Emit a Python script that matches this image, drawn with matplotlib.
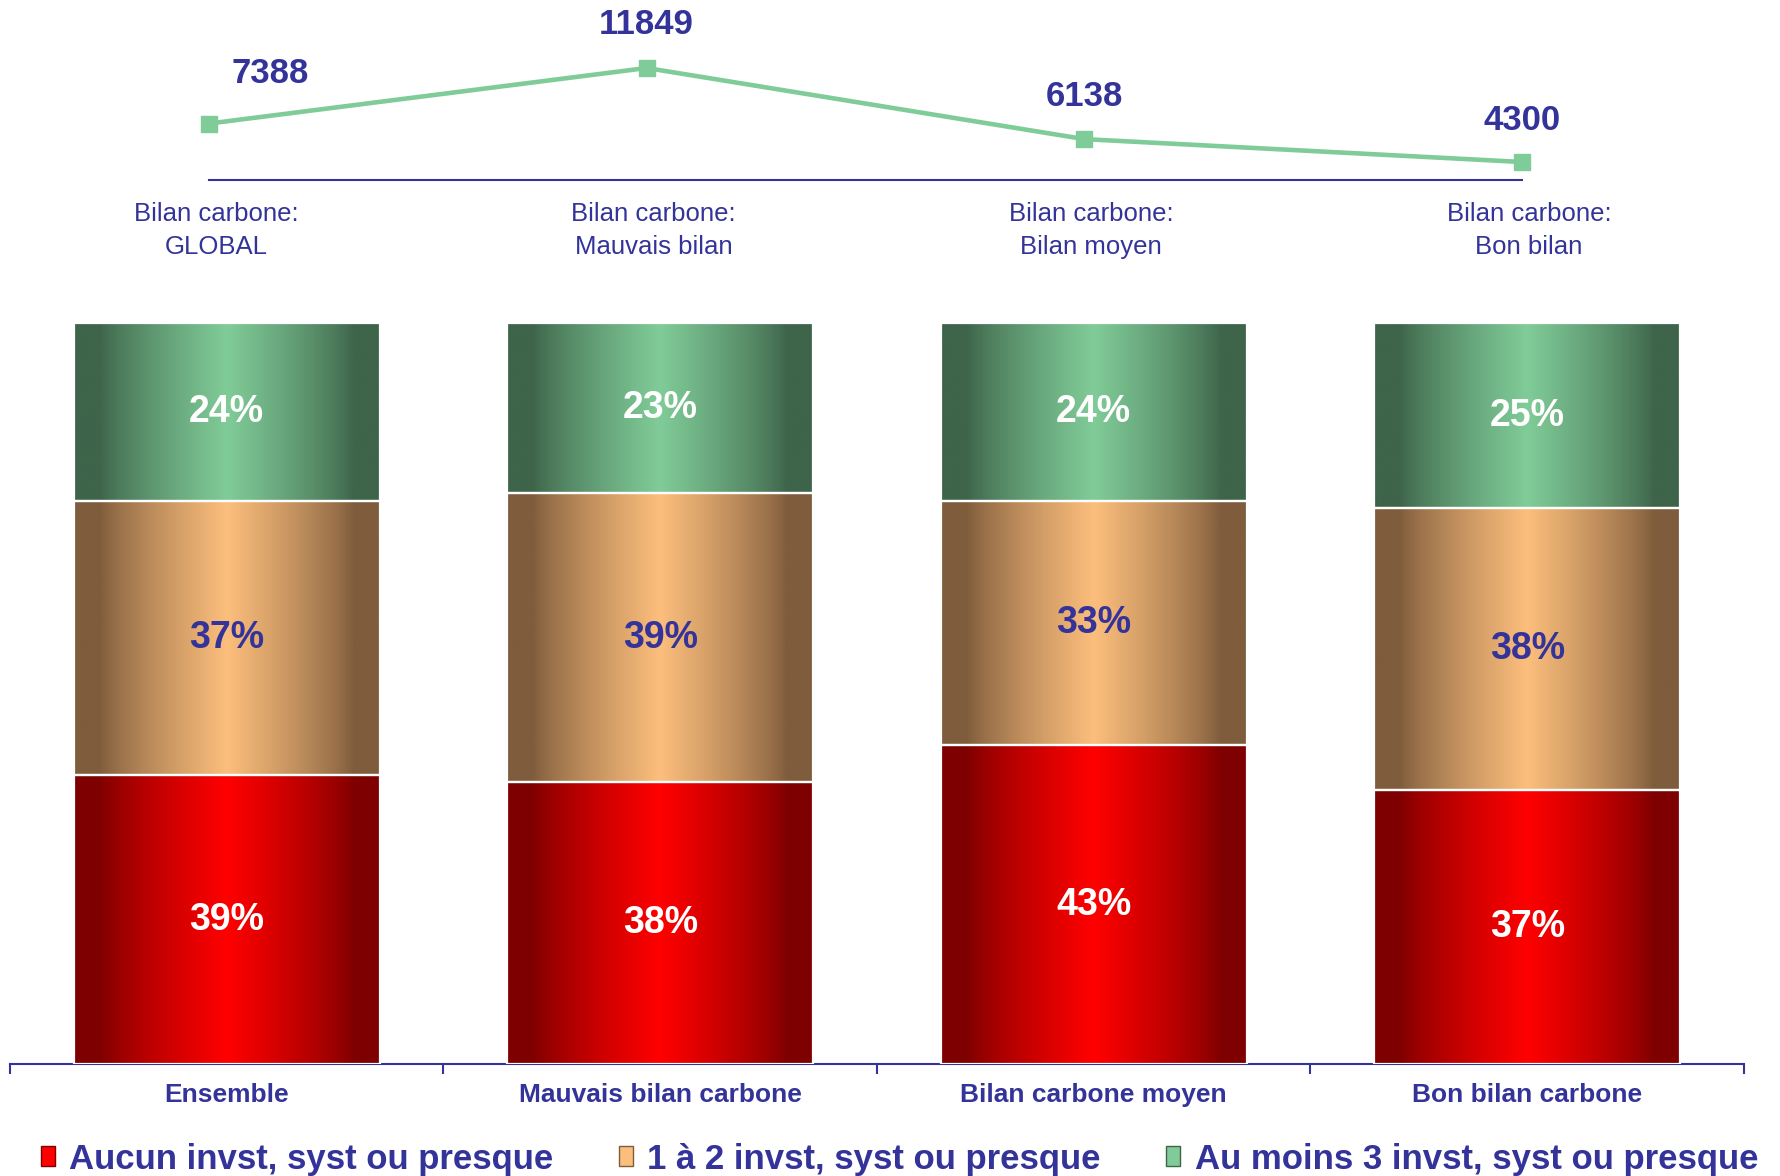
import numpy as np
import matplotlib
matplotlib.use("Agg")
import matplotlib.pyplot as plt
from matplotlib.colors import LinearSegmentedColormap
from matplotlib.patches import Rectangle
from matplotlib.transforms import ScaledTranslation

plt.rcParams['font.family'] = ['Liberation Sans', 'DejaVu Sans']

# sample sizes by carbon profile
line_labels = ["Bilan carbone:\nGLOBAL", "Bilan carbone:\nMauvais bilan",
               "Bilan carbone:\nBilan moyen", "Bilan carbone:\nBon bilan"]
effectifs = [7388, 11849, 6138, 4300]

# share of investments per group (%)
groupes = ["Ensemble", "Mauvais bilan carbone", "Bilan carbone moyen", "Bon bilan carbone"]
series = ["Aucun invst, syst ou presque", "1 à 2 invst, syst ou presque",
          "Au moins 3 invst, syst ou presque"]
aucun = [39, 38, 43, 37]
un_deux = [37, 39, 33, 38]
trois_plus = [24, 23, 24, 25]

BLUE = '#333399'
W, H = 1781, 1176
fig = plt.figure(figsize=(W / 100, H / 100), dpi=100)

def px_axes(x0, y0, x1, y1):
    # axes from pixel box (top-left origin)
    return fig.add_axes([x0 / W, 1 - y1 / H, (x1 - x0) / W, (y1 - y0) / H])

# ---- line chart on top
axl = px_axes(209, 0, 1522, 180)
xs = np.arange(len(effectifs))
axl.plot(xs, effectifs, color='#80cc98', lw=3.3, marker='s', ms=12,
         mec='#80cc98', mfc='#80cc98', clip_on=False, zorder=3)
axl.set_xlim(0, 3)
axl.set_ylim(2855, 17310)
for s in ['top', 'left', 'right']:
    axl.spines[s].set_visible(False)
axl.spines['bottom'].set_color(BLUE)
axl.spines['bottom'].set_linewidth(1.5)
axl.set_yticks([])
axl.set_xticks(xs)
axl.set_xticklabels(line_labels, fontsize=18.5, color=BLUE, linespacing=1.5)
axl.tick_params(axis='x', length=0, pad=15.5)
shift = ScaledTranslation(7 / 100, 0, fig.dpi_scale_trans)
for lab in axl.get_xticklabels():
    lab.set_transform(lab.get_transform() + shift)

label_offsets = [(44, 36), (0, 31), (0, 31), (0, 30)]
for x, v, off in zip(xs, effectifs, label_offsets):
    axl.annotate(str(v), (x, v), xytext=off, textcoords='offset points',
                 ha='center', va='center', fontsize=25, fontweight='bold',
                 color=BLUE, annotation_clip=False)

# ---- stacked bars with a horizontal shading
axb = px_axes(10, 323, 1744, 1064)
pos = np.arange(len(groupes))
width = 0.705

shades = [('#7f0000', '#ff0000'), ('#7f5c3c', '#fcbe7c'), ('#3e644a', '#80cc98')]
txt_colors = ['white', BLUE, 'white']

u = np.linspace(0, 1, 400)
d = np.abs(u - 0.5) * 2
prof = np.clip(1 - d / 0.83, 0, 1) ** 0.8
grad = prof[np.newaxis, :]

bottom = np.zeros(len(groupes))
for vals, (dark, light), tc in zip([aucun, un_deux, trois_plus], shades, txt_colors):
    cmap = LinearSegmentedColormap.from_list('shade', [dark, light])
    bars = axb.bar(pos, vals, width, bottom=bottom, facecolor='none',
                   edgecolor='white', linewidth=1.6, zorder=3)
    for b, v in zip(bars, vals):
        x0, y0 = b.get_x(), b.get_y()
        axb.imshow(grad, cmap=cmap, vmin=0, vmax=1, aspect='auto',
                   extent=[x0, x0 + b.get_width(), y0, y0 + b.get_height()],
                   interpolation='bilinear', zorder=2)
        axb.text(x0 + b.get_width() / 2, y0 + b.get_height() / 2, f"{v}%",
                 ha='center', va='center', fontsize=27, fontweight='bold',
                 color=tc, zorder=4)
    bottom += np.array(vals)

axb.set_xlim(-0.5, 3.5)
axb.set_ylim(0, 100)
for s in ['top', 'left', 'right']:
    axb.spines[s].set_visible(False)
axb.spines['bottom'].set_color(BLUE)
axb.spines['bottom'].set_linewidth(1.5)
axb.set_yticks([])
axb.set_xticks(np.arange(-0.5, 4, 1))
axb.set_xticklabels([])
axb.tick_params(axis='x', which='major', length=7, width=1.5, color=BLUE, direction='out')
axb.set_xticks(pos, minor=True)
axb.set_xticklabels(groupes, minor=True, fontsize=19, fontweight='bold', color=BLUE)
axb.tick_params(axis='x', which='minor', length=0, pad=14)

# ---- legend
handles = [Rectangle((0, 0), 1, 1, facecolor=lt, edgecolor=dk, linewidth=1)
           for dk, lt in shades]
fig.legend(handles, series, loc='center left', bbox_to_anchor=(41 / W, 1 - 1159 / H),
           ncol=3, frameon=False, borderpad=0, borderaxespad=0,
           handlelength=0.4, handleheight=0.5, handletextpad=0.42,
           columnspacing=1.88, prop={'size': 25, 'weight': 'bold'},
           labelcolor=BLUE)

fig.savefig('out.png', dpi=100)
